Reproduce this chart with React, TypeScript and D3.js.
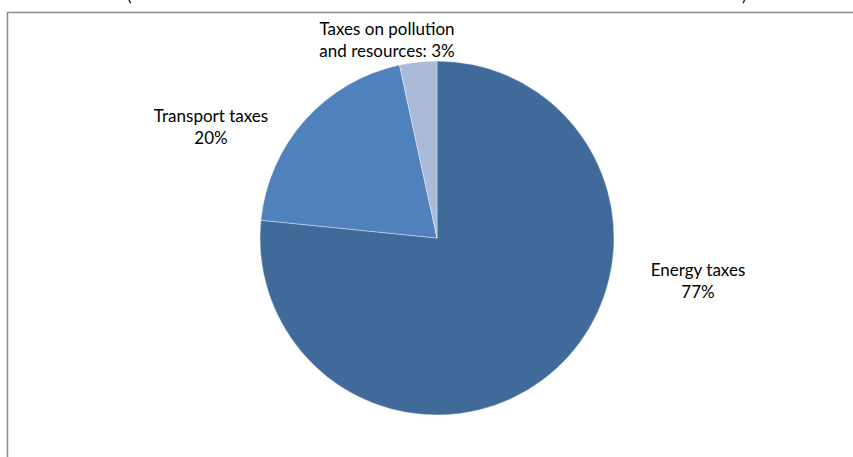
import React from "react";
import * as d3 from "d3";

const categories = ["Energy taxes", "Transport taxes", "Taxes on pollution and resources"];
const values = [76.6, 20.0, 3.4];
const labelLines = [
  ["Energy taxes", "77%"],
  ["Transport taxes", "20%"],
  ["Taxes on pollution", "and resources: 3%"],
];
const colors = ["#3F6A9A", "#4F81BD", "#AABAD7"];

const W = 853;
const H = 457;
const cx = 437;
const cy = 238;
const R = 177;
const FONT = "Lato, 'Open Sans', sans-serif";
const FS = 17;

// label anchors relative to the pie centre (first-line baseline)
const labelAnchors = [
  [261, 38],
  [-226, -116],
  [-50, -203],
];

export default function App() {
  const pie = d3.pie<number>().sort(null).value((d) => d);
  const arcs = pie(values);
  const arcGen = d3.arc<d3.PieArcDatum<number>>().innerRadius(0).outerRadius(R);
  return (
    <svg width={W} height={H} style={{ position: "absolute", left: 0, top: 0 }}>
      <rect x={0} y={0} width={W} height={H} fill="#fff" />
      <text x={127} y={1} fontFamily={FONT} fontSize={FS} fill="#000">(</text>
      <text x={742} y={1} fontFamily={FONT} fontSize={FS} fill="#000">)</text>
      <rect x={7.5} y={12.5} width={1000} height={1000} fill="none" stroke="#8c8c8c" strokeWidth={1.5} />
      <g transform={`translate(${cx},${cy})`}>
        {arcs.map((a, i) => (
          <path key={categories[i]} d={arcGen(a) || ""} fill={colors[i]} stroke="#ffffff" strokeOpacity={0.5} strokeWidth={0.75} />
        ))}
        {arcs.map((a, i) => {
          const [x, y] = labelAnchors[i];
          return (
            <text key={"l" + i} x={x} y={y} textAnchor="middle" fontFamily={FONT} fontSize={FS} fill="#000">
              {labelLines[i].map((t, j) => (
                <tspan key={j} x={x} dy={j === 0 ? 0 : 21.5}>{t}</tspan>
              ))}
            </text>
          );
        })}
      </g>
    </svg>
  );
}
